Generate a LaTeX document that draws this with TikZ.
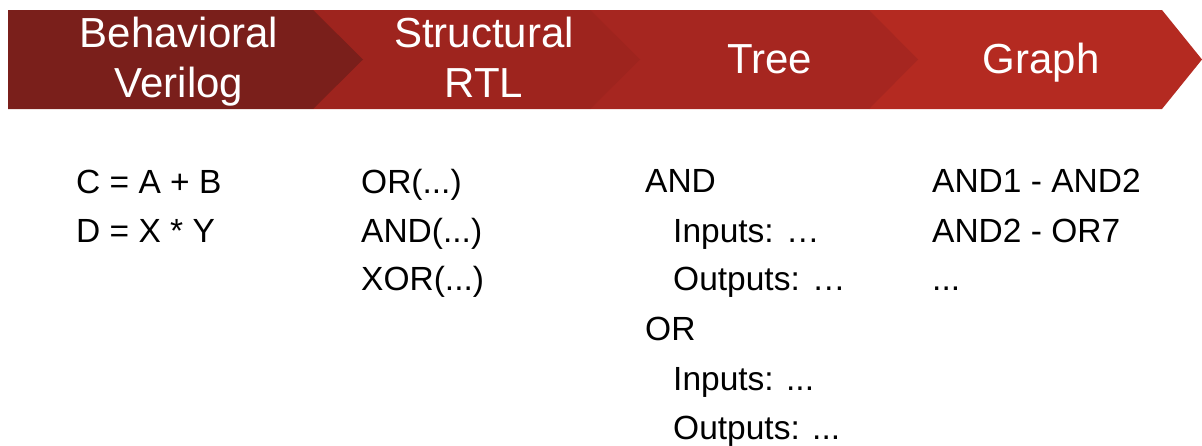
\documentclass[tikz,border=0pt]{standalone}
\usepackage{fontspec}
\setmainfont{Liberation Sans}
\begin{document}
\begin{tikzpicture}[x=1pt,y=-1pt,
  hdr/.style={text=white, inner sep=0pt, anchor=base, align=center,
    font=\fontsize{42}{50}\selectfont},
  body/.style={text=black, inner sep=0pt, anchor=base west,
    font=\fontsize{33.5}{49}\selectfont}]
\definecolor{stageA}{RGB}{122,31,27}
\definecolor{stageB}{RGB}{158,36,30}
\definecolor{stageC}{RGB}{166,38,32}
\definecolor{stageD}{RGB}{180,42,33}
\useasboundingbox (0,0) rectangle (1202,445);

% process chevrons, drawn right to left so each tip overlaps the next stage
\fill[stageD] (869,10) -- (1162,10) -- (1202,59.5) -- (1162,109) -- (869,109) -- cycle;
\fill[stageC] (590,10) -- (869,10) -- (918,59.5) -- (869,109) -- (590,109) -- cycle;
\fill[stageB] (313,10) -- (590,10) -- (640,59.5) -- (590,109) -- (313,109) -- cycle;
\fill[stageA] (8,10) -- (313,10) -- (363,59.5) -- (313,109) -- (8,109) -- cycle;

% stage titles (two-line titles are anchored at their second baseline)
\node[hdr] (t1) at (179,97) {Behavioral\\Verilog};
\node[hdr] (t2) at (484,97) {Structural\\RTL};
\node[hdr] (t3) at (769.5,73) {Tree};
\node[hdr] (t4) at (1041,73) {Graph};

% behavioral verilog
\node[body] (b1) at (76,193) {C = A + B};
\node[body] (b2) at (76,242) {D = X * Y};

% structural RTL
\node[body] (s1) at (361,193) {OR(...)};
\node[body] (s2) at (361,242) {AND(...)};
\node[body] (s3) at (361,290) {XOR(...)};

% tree
\node[body] (r1) at (645,192) {AND};
\node[body] (r2) at (673,242) {Inputs: …};
\node[body] (r3) at (673,290) {Outputs: …};
\node[body] (r4) at (645,340) {OR};
\node[body] (r5) at (673,390) {Inputs: ...};
\node[body] (r6) at (673,439) {Outputs: ...};

% graph
\node[body] (g1) at (932,192) {AND1 - AND2};
\node[body] (g2) at (932,242) {AND2 - OR7};
\node[body] (g3) at (932,290) {...};
\end{tikzpicture}
\end{document}
